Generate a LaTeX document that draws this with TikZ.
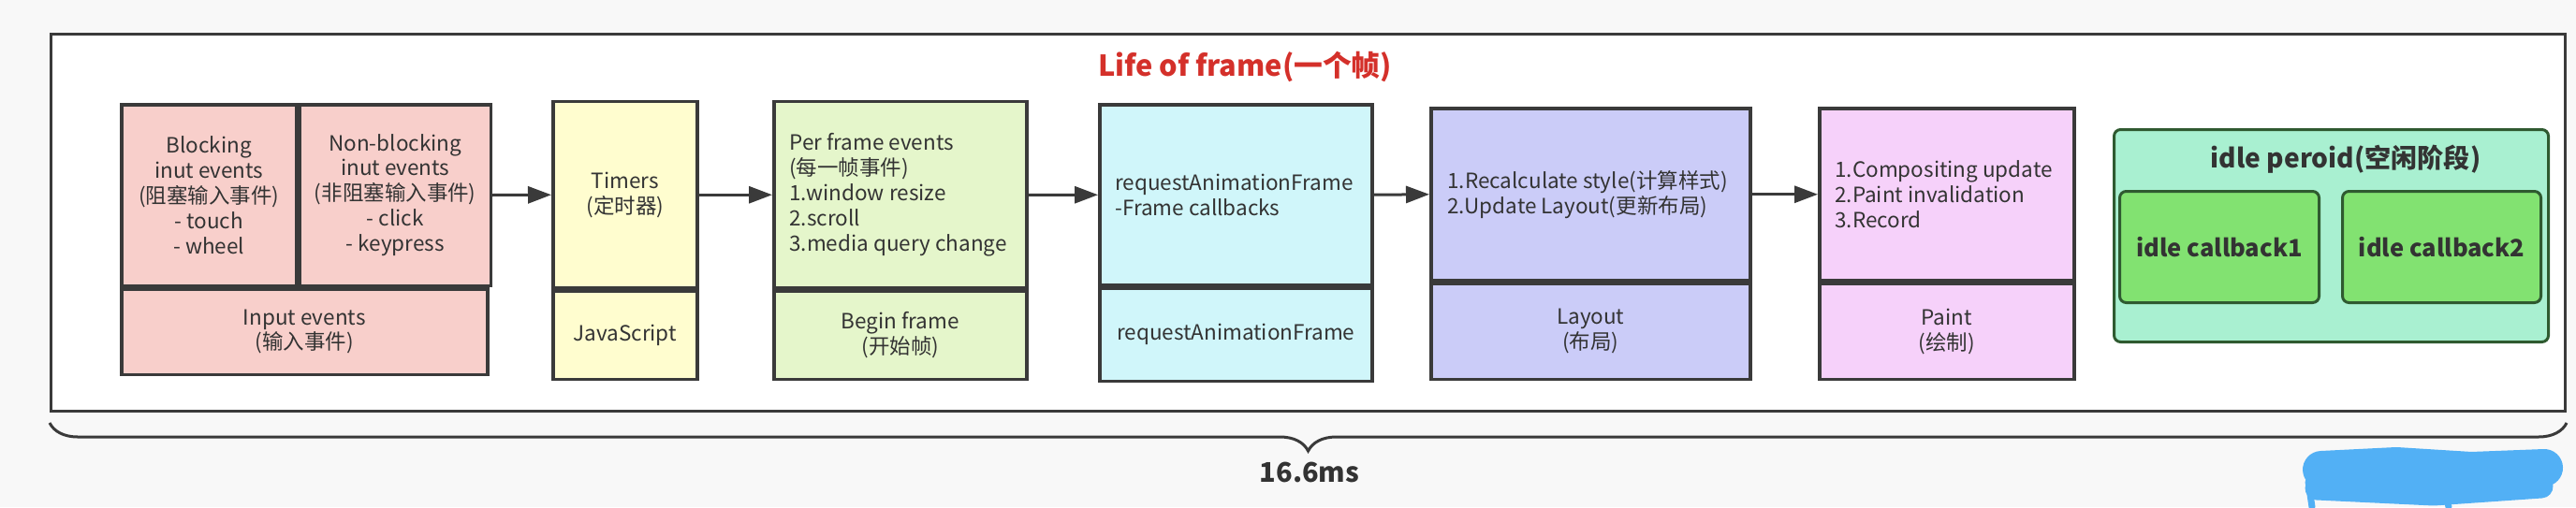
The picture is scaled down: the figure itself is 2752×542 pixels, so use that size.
\documentclass[tikz,border=0pt]{standalone}
\usepackage{fontspec}
\setmainfont{Noto Sans CJK SC}
\usetikzlibrary{positioning}
\usetikzlibrary{arrows.meta}
\usetikzlibrary{decorations.pathreplacing}
\definecolor{linegray}{HTML}{3A3A3A}
\definecolor{txtgray}{HTML}{333333}
\definecolor{bggray}{HTML}{F8F8F8}
\definecolor{inputred}{HTML}{F8CFCB}
\definecolor{timeryellow}{HTML}{FFFDCF}
\definecolor{framegreen}{HTML}{E5F6CB}
\definecolor{rafcyan}{HTML}{D0F6FA}
\definecolor{layoutblue}{HTML}{CBCCF8}
\definecolor{paintpink}{HTML}{F6D1FA}
\definecolor{idlemint}{HTML}{A9F0D1}
\definecolor{idlegreen}{HTML}{82E271}
\definecolor{idleborder}{HTML}{2F5A30}
\definecolor{titlered}{HTML}{D4302A}
\definecolor{scribble}{HTML}{52B0F5}

\begin{document}
\begin{tikzpicture}[x=0.2mm, y=-0.2mm, >={Triangle[length=5mm, width=3.6mm]}, font=\fontsize{12.8}{15.3}\selectfont, text=txtgray]
\tikzstyle{cell}=[draw=linegray, line width=0.7mm, rectangle, anchor=north west, inner sep=0pt, align=center]
\tikzstyle{note}=[anchor=west, align=left, inner sep=0pt]
\tikzstyle{flow}=[->, draw=linegray, line width=0.6mm]
\tikzstyle{idlebox}=[draw=idleborder, line width=0.6mm, rounded corners=1.4mm, anchor=north west, inner sep=0pt, font=\fontsize{14.5}{17}\selectfont\bfseries]

\fill[bggray] (0,0) rectangle (2752,542);
\useasboundingbox (0,0) rectangle (2752,542);

\node[draw=linegray, line width=0.6mm, fill=white, anchor=north west, minimum width=537.2mm, minimum height=80.6mm, inner sep=0pt] (frame) at (53,35) {};
\node[text=titlered, font=\fontsize{17.5}{21}\selectfont\bfseries] (title) at (1330,71) {Life of frame(一个帧)};

% input events
\node[cell, fill=inputred, minimum width=37.4mm, minimum height=38.7mm] (blk) at (128,110) {Blocking\\inut events\\(阻塞输入事件)\\- touch\\- wheel};
\node[cell, fill=inputred, minimum width=40.8mm, minimum height=38.7mm] (nblk) at (blk.north east) {Non-blocking\\inut events\\(非阻塞输入事件)\\- click\\- keypress};
\node[cell, fill=inputred, minimum width=78.2mm, minimum height=18.3mm] (inp) at (blk.south west) {Input events\\(输入事件)};

% timers
\node[cell, fill=timeryellow, minimum width=30.8mm, minimum height=39.8mm] (tmr) at (589,107) {Timers\\(定时器)};
\node[cell, fill=timeryellow, minimum width=30.8mm, minimum height=18.8mm] (js) at (tmr.south west) {JavaScript};

% begin frame
\node[cell, fill=framegreen, minimum width=54mm, minimum height=39.8mm] (pfe) at (825,107) {};
\node[cell, fill=framegreen, minimum width=54mm, minimum height=18.8mm] (bgf) at (pfe.south west) {Begin frame\\(开始帧)};
\node[note] (pfetxt) at ([xshift=3.6mm]pfe.west) {Per frame events\\(每一帧事件)\\1.window resize\\2.scroll\\3.media query change};

% rAF
\node[cell, fill=rafcyan, minimum width=58.2mm, minimum height=38.6mm] (raf) at (1173,110) {};
\node[cell, fill=rafcyan, minimum width=58.2mm, minimum height=19.8mm] (raf2) at (raf.south west) {requestAnimationFrame};
\node[note] (raftxt) at ([xshift=3.6mm]raf.west) {requestAnimationFrame\\-Frame callbacks};

% layout
\node[cell, fill=layoutblue, minimum width=68.2mm, minimum height=36.8mm] (lay) at (1527,114) {};
\node[cell, fill=layoutblue, minimum width=68.2mm, minimum height=20.4mm] (lay2) at (lay.south west) {Layout\\(布局)};
\node[note] (laytxt) at ([xshift=3.8mm]lay.west) {1.Recalculate style(计算样式)\\2.Update Layout(更新布局)};

% paint
\node[cell, fill=paintpink, minimum width=54.4mm, minimum height=36.8mm] (pnt) at (1942,114) {};
\node[cell, fill=paintpink, minimum width=54.4mm, minimum height=20.4mm] (pnt2) at (pnt.south west) {Paint\\(绘制)};
\node[note] (pnttxt) at ([xshift=3.6mm]pnt.west) {1.Compositing update\\2.Paint invalidation\\3.Record};

% idle
\node[idlebox, fill=idlemint, minimum width=92.8mm, minimum height=45.4mm] (idle) at (2257,137) {};
\node[font=\fontsize{16}{19}\selectfont\bfseries] (idlettl) at (2506,170) {idle peroid(空闲阶段)};
\node[idlebox, fill=idlegreen, minimum width=42.6mm, minimum height=23.8mm] (cb1) at (2263,203) {idle callback1};
\node[idlebox, fill=idlegreen, minimum width=42.4mm, minimum height=23.8mm] (cb2) at (2501,203) {idle callback2};

\path (nblk.east) edge[flow] (tmr.west);
\path (tmr.east) edge[flow] (pfe.west);
\path (pfe.east) edge[flow] (raf.west);
\path (raf.east) edge[flow] (lay.west);
\path (lay.east) edge[flow] (pnt.west);

\draw[decorate, decoration={brace, mirror, amplitude=6mm}, draw=linegray, line width=0.6mm] ([yshift=-2.2mm]frame.south west) -- ([yshift=-2.2mm]frame.south east);
\node[font=\fontsize{16.5}{19}\selectfont\bfseries] (dur) at (1399,505) {16.6ms};

% scribble
\draw[scribble, line width=8mm, line cap=round, line join=round] (2480,502) -- (2560,498) -- (2640,503) -- (2718,500);
\draw[scribble, line width=5mm, line cap=round, line join=round] (2475,522) -- (2600,528) -- (2715,520);
\draw[scribble, line width=1.4mm, line cap=round] (2466,515) -- (2470,542);
\draw[scribble, line width=1.4mm, line cap=round] (2612,525) -- (2616,542);
\end{tikzpicture}
\end{document}
